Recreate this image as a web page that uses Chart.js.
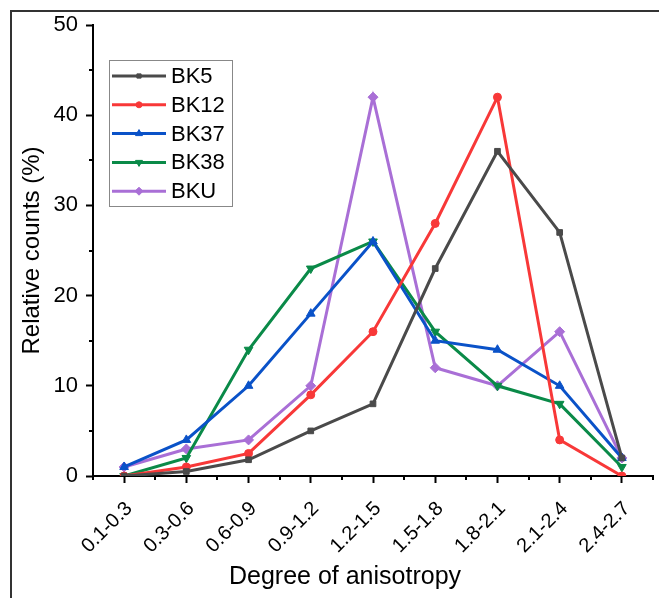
<!DOCTYPE html>
<html lang="en">
<head>
  <meta charset="UTF-8">
  <title>Degree of anisotropy</title>
  <script src="https://cdn.jsdelivr.net/npm/chart.js"></script>
  <style>
    html, body {
      margin: 0;
      padding: 0;
      background: #fff;
    }
    #chartBox {
      position: relative;
      width: 659px;
      height: 598px;
    }
  </style>
</head>
<body>
  <div id="chartBox">
    <canvas id="myChart" width="659" height="598"></canvas>
  </div>

  <script>
    const categories = ['0.1-0.3', '0.3-0.6', '0.6-0.9', '0.9-1.2', '1.2-1.5', '1.5-1.8', '1.8-2.1', '2.1-2.4', '2.4-2.7'];
    const bk5 = [0, 0.5, 1.8, 5, 8, 23, 36, 27, 2];
    const bk12 = [0, 1, 2.5, 9, 16, 28, 42, 4, 0];
    const bk37 = [1, 4, 10, 18, 26, 15, 14, 10, 2];
    const bk38 = [0, 2, 14, 23, 26, 16, 10, 8, 1];
    const bku = [1, 3, 4, 10, 42, 12, 10, 16, 2];
    const yTicks = [0, 10, 20, 30, 40, 50];
    const xTitle = 'Degree of anisotropy';

    const font = 'Arial, "Liberation Sans", sans-serif';

    function series(label, data, color, style, rotation, radius) {
      return {
        label: label,
        data: data,
        borderColor: color,
        backgroundColor: color,
        borderWidth: 3,
        pointStyle: style,
        pointRotation: rotation,
        pointRadius: radius,
        pointBorderWidth: 1,
        tension: 0
      };
    }

    const datasets = [
      series('BK5', bk5, '#4a4a4a', 'rect', 0, 4),
      series('BK12', bk12, '#f83838', 'circle', 0, 4),
      series('BK37', bk37, '#0a52c8', 'triangle', 0, 5),
      series('BK38', bk38, '#0a8a48', 'triangle', 180, 5),
      series('BKU', bku, '#a96fd6', 'rectRot', 0, 5)
    ];

    // outer frame, minor ticks, x title and the boxed legend
    const extras = {
      id: 'extras',
      beforeDraw(chart) {
        const ctx = chart.ctx;
        ctx.save();
        ctx.strokeStyle = '#333';
        ctx.lineWidth = 2;
        ctx.beginPath();
        ctx.moveTo(11, 598);
        ctx.lineTo(11, 11);
        ctx.lineTo(659, 11);
        ctx.stroke();
        ctx.restore();
      },
      afterDraw(chart) {
        const ctx = chart.ctx;
        const x = chart.scales.x;
        const y = chart.scales.y;
        const area = chart.chartArea;
        ctx.save();
        ctx.strokeStyle = '#000';
        ctx.lineWidth = 2;
        ctx.beginPath();
        for (let v = 5; v < 50; v += 10) {
          const py = Math.round(y.getPixelForValue(v));
          ctx.moveTo(area.left, py);
          ctx.lineTo(area.left - 4, py);
        }
        const step = x.getPixelForValue(1) - x.getPixelForValue(0);
        for (let i = 0; i <= categories.length; i++) {
          const px = Math.round(x.getPixelForValue(i) - step / 2);
          ctx.moveTo(px, area.bottom);
          ctx.lineTo(px, area.bottom + 4);
        }
        ctx.stroke();

        ctx.fillStyle = '#000';
        ctx.font = '25px ' + font;
        ctx.textAlign = 'center';
        ctx.textBaseline = 'middle';
        ctx.fillText(xTitle, 345, 577);

        // legend
        const lx = 109, ly = 60, lw = 123, lh = 146;
        ctx.fillStyle = '#fff';
        ctx.fillRect(lx, ly, lw, lh);
        ctx.strokeStyle = '#888';
        ctx.lineWidth = 1;
        ctx.strokeRect(lx + 0.5, ly + 0.5, lw, lh);
        ctx.font = '22px ' + font;
        ctx.textAlign = 'left';
        chart.data.datasets.forEach((ds, i) => {
          const cy = 76 + i * 28.8;
          ctx.strokeStyle = ds.borderColor;
          ctx.lineWidth = 3;
          ctx.beginPath();
          ctx.moveTo(112, cy);
          ctx.lineTo(166, cy);
          ctx.stroke();
          ctx.fillStyle = ds.borderColor;
          ctx.lineWidth = 1;
          Chart.helpers.drawPoint(ctx, {
            pointStyle: ds.pointStyle,
            rotation: ds.pointRotation,
            radius: ds.pointRadius - 1,
            borderWidth: 1
          }, 139, cy);
          ctx.fillStyle = '#000';
          ctx.fillText(ds.label, 171, cy + 1);
        });
        ctx.restore();
      }
    };

    const ctx = document.getElementById('myChart').getContext('2d');
    new Chart(ctx, {
      type: 'line',
      data: {
        labels: categories,
        datasets: datasets
      },
      options: {
        responsive: false,
        animation: false,
        layout: {
          padding: { top: 25, right: 6, bottom: 0, left: 18 }
        },
        plugins: {
          legend: { display: false },
          tooltip: { enabled: false }
        },
        scales: {
          x: {
            type: 'category',
            offset: true,
            grid: {
              offset: false,
              drawOnChartArea: false,
              tickLength: 7,
              tickWidth: 2,
              tickColor: '#000'
            },
            border: { color: '#000', width: 2 },
            ticks: {
              color: '#000',
              font: { family: font, size: 20 },
              minRotation: 45,
              maxRotation: 45,
              padding: 14,
              labelOffset: 5,
              autoSkip: false
            },
            afterFit(scale) { scale.height = 122; }
          },
          y: {
            min: 0,
            max: 50,
            afterBuildTicks(scale) {
              scale.ticks = yTicks.map(v => ({ value: v }));
            },
            grid: {
              drawOnChartArea: false,
              tickLength: 7,
              tickWidth: 2,
              tickColor: '#000'
            },
            border: { color: '#000', width: 2 },
            ticks: {
              color: '#000',
              font: { family: font, size: 22 },
              padding: 8
            },
            title: {
              display: true,
              text: 'Relative counts (%)',
              color: '#000',
              font: { family: font, size: 24 },
              padding: { top: 0, bottom: 0 }
            },
            afterFit(scale) { scale.width = 75; }
          }
        }
      },
      plugins: [extras]
    });
  </script>
</body>
</html>
